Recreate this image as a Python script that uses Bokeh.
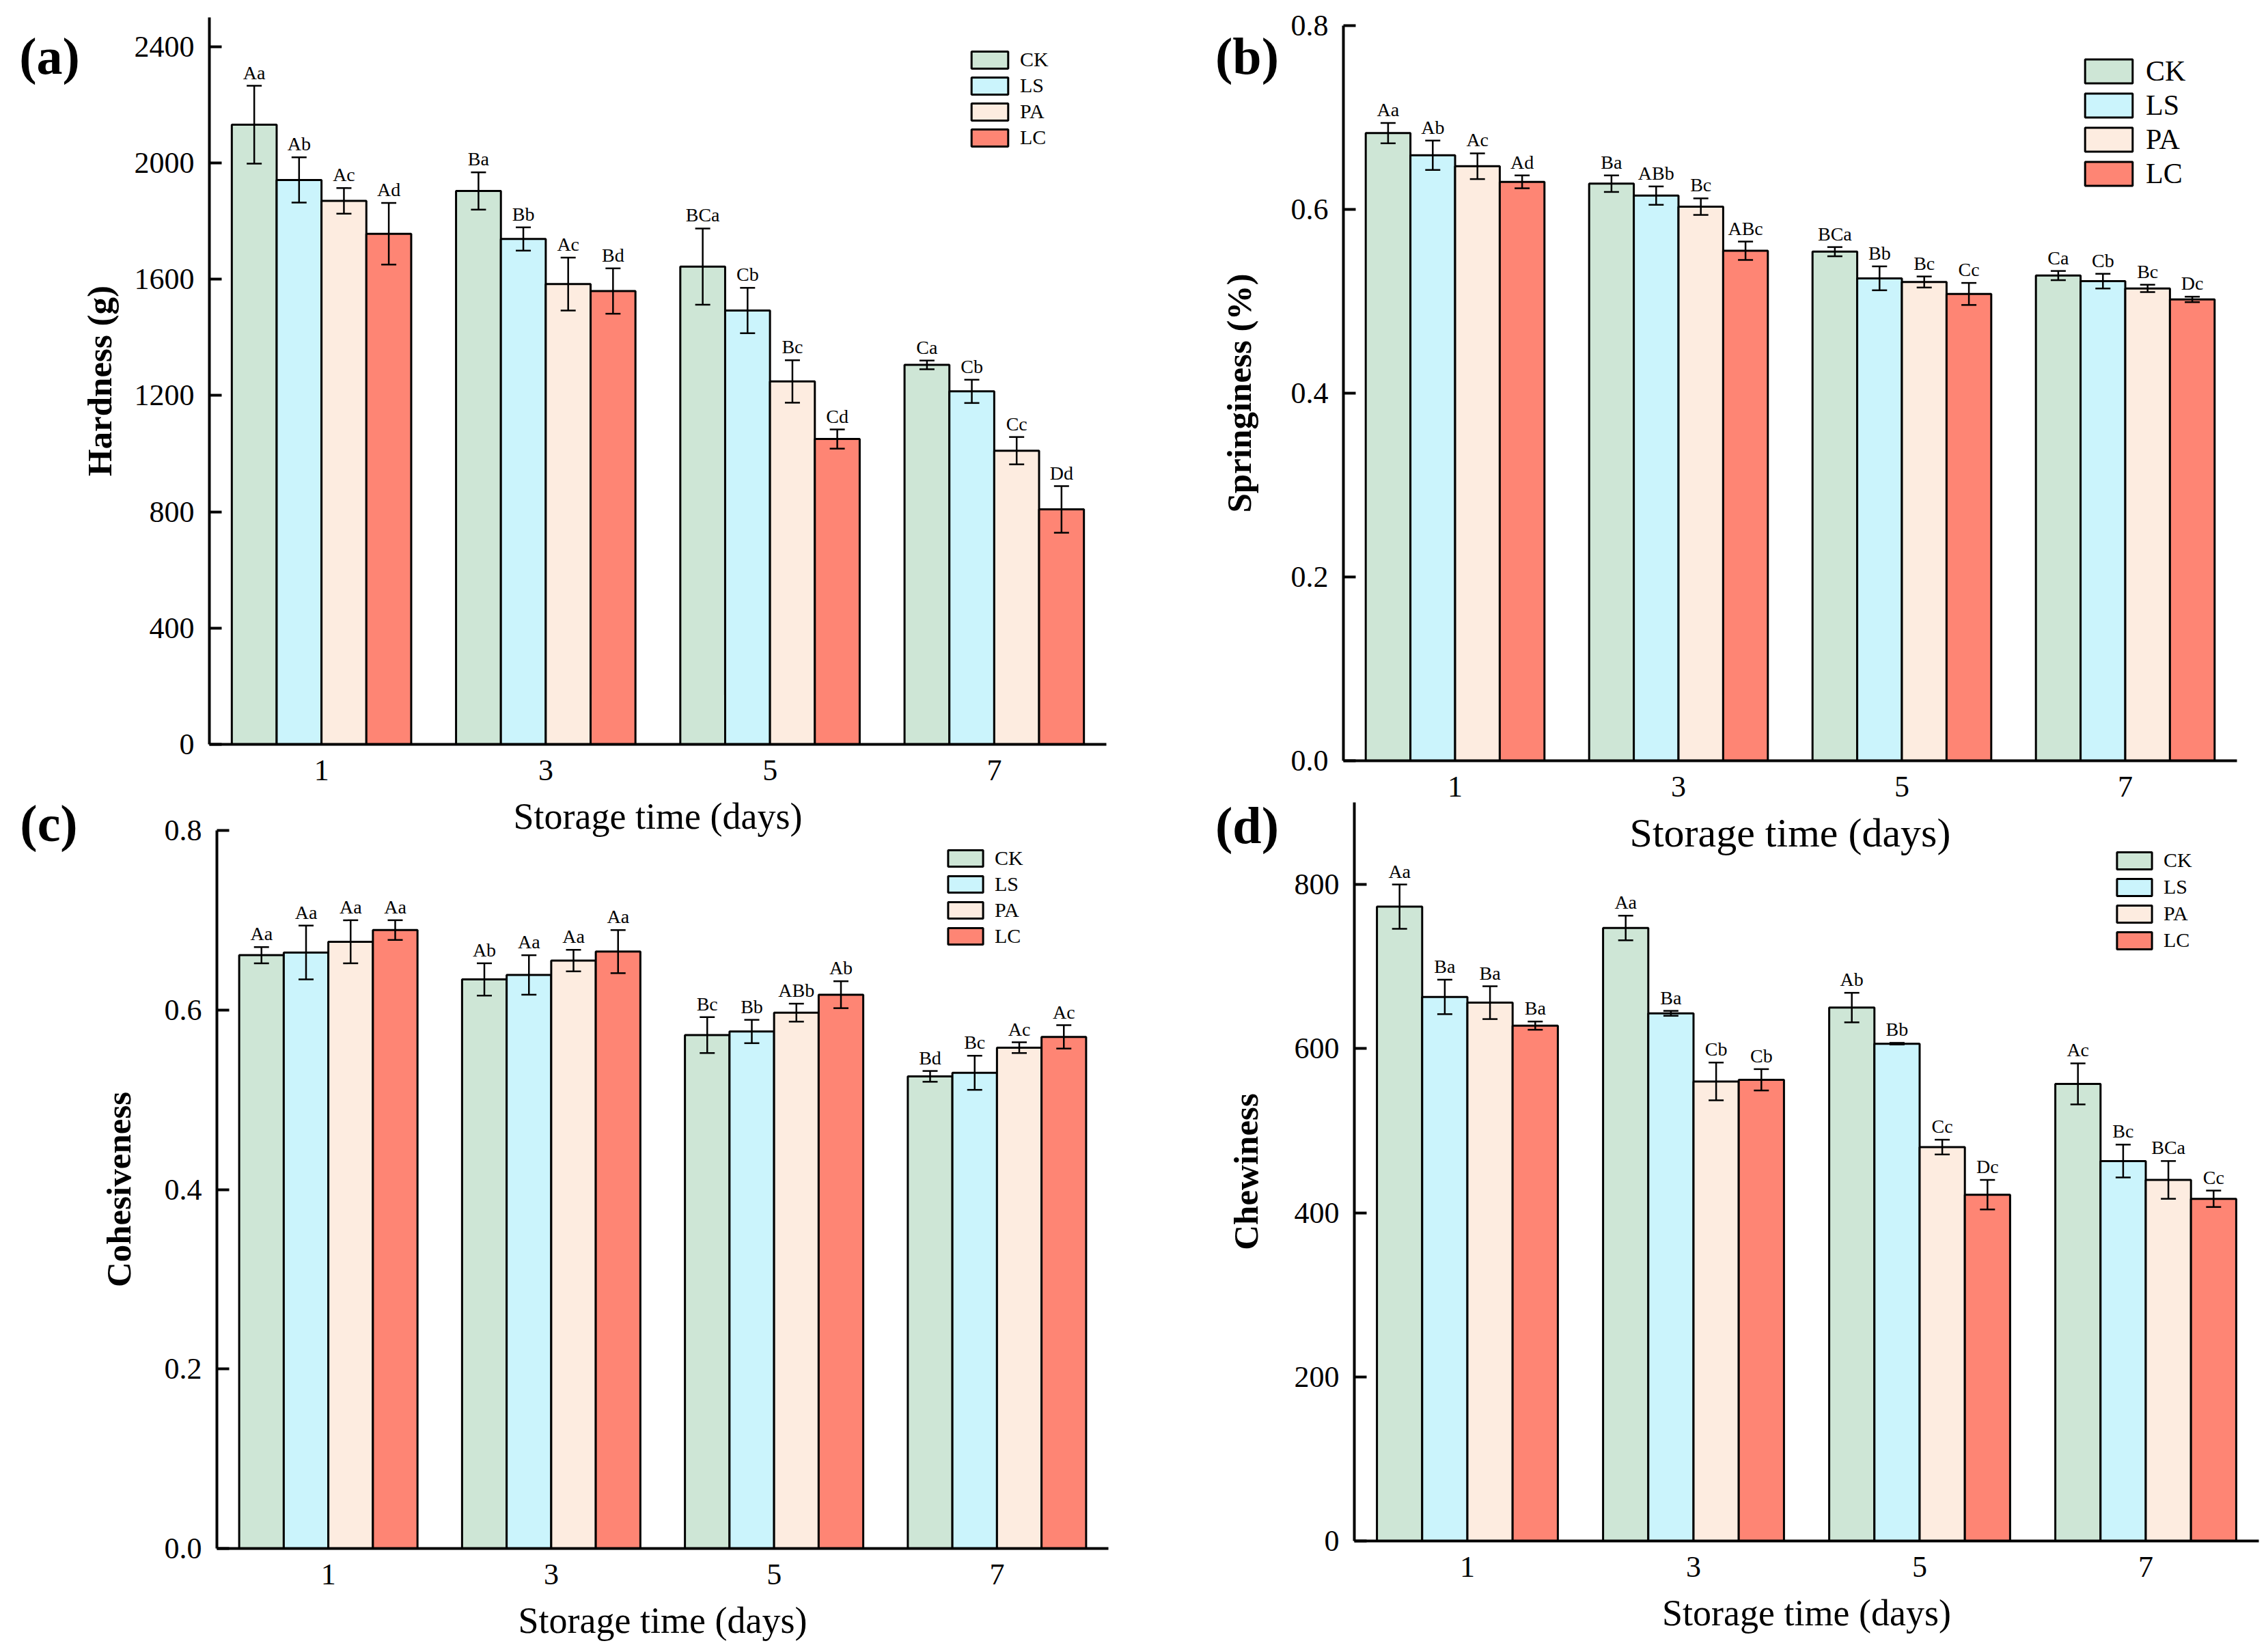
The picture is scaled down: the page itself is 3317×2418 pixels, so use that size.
import numpy as np
from bokeh.plotting import figure
from bokeh.models import (Range1d, FixedTicker, NumeralTickFormatter, Whisker, TeeHead,
                          ColumnDataSource, GridBox)
from bokeh.embed import file_html
from bokeh.resources import INLINE
from bokeh.core.properties import value

FONT = "Liberation Serif"
W, H = 3310, 2412   # every panel shares one full-page canvas (stacked, transparent)

# ---------------- data ----------------
days = ["1", "3", "5", "7"]
groups = ["CK", "LS", "PA", "LC"]
colors = ["#CEE6D6", "#CBF4FC", "#FDECE0", "#FE8574"]

# (a) Hardness (g)
hard_ck = [2131, 1903, 1643, 1305]
hard_ls = [1941, 1738, 1492, 1214]
hard_pa = [1869, 1583, 1248, 1010]
hard_lc = [1756, 1559, 1050, 808]
hard_ck_err = [134, 64, 131, 15]
hard_ls_err = [78, 40, 78, 40]
hard_pa_err = [44, 91, 73, 47]
hard_lc_err = [106, 78, 33, 80]
hard_ck_sig = ["Aa", "Ba", "BCa", "Ca"]
hard_ls_sig = ["Ab", "Bb", "Cb", "Cb"]
hard_pa_sig = ["Ac", "Ac", "Bc", "Cc"]
hard_lc_sig = ["Ad", "Bd", "Cd", "Dd"]
hard_ticks = [0, 400, 800, 1200, 1600, 2000, 2400]

# (b) Springiness (%)
spr_ck = [0.683, 0.628, 0.554, 0.528]
spr_ls = [0.659, 0.615, 0.525, 0.522]
spr_pa = [0.647, 0.603, 0.521, 0.514]
spr_lc = [0.630, 0.555, 0.508, 0.502]
spr_ck_err = [0.011, 0.009, 0.005, 0.005]
spr_ls_err = [0.016, 0.010, 0.013, 0.008]
spr_pa_err = [0.014, 0.009, 0.006, 0.004]
spr_lc_err = [0.007, 0.010, 0.012, 0.003]
spr_ck_sig = ["Aa", "Ba", "BCa", "Ca"]
spr_ls_sig = ["Ab", "ABb", "Bb", "Cb"]
spr_pa_sig = ["Ac", "Bc", "Bc", "Bc"]
spr_lc_sig = ["Ad", "ABc", "Cc", "Dc"]
frac_ticks = [0.0, 0.2, 0.4, 0.6, 0.8]

# (c) Cohesiveness
coh_ck = [0.661, 0.634, 0.572, 0.526]
coh_ls = [0.664, 0.639, 0.576, 0.530]
coh_pa = [0.676, 0.655, 0.597, 0.558]
coh_lc = [0.689, 0.665, 0.617, 0.570]
coh_ck_err = [0.009, 0.018, 0.020, 0.006]
coh_ls_err = [0.030, 0.022, 0.013, 0.019]
coh_pa_err = [0.024, 0.012, 0.010, 0.006]
coh_lc_err = [0.011, 0.024, 0.015, 0.013]
coh_ck_sig = ["Aa", "Ab", "Bc", "Bd"]
coh_ls_sig = ["Aa", "Aa", "Bb", "Bc"]
coh_pa_sig = ["Aa", "Aa", "ABb", "Ac"]
coh_lc_sig = ["Aa", "Aa", "Ab", "Ac"]

# (d) Chewiness
chew_ck = [773, 747, 650, 557]
chew_ls = [663, 643, 606, 463]
chew_pa = [656, 560, 480, 440]
chew_lc = [628, 562, 422, 417]
chew_ck_err = [27, 15, 18, 25]
chew_ls_err = [21, 3, 1, 20]
chew_pa_err = [20, 23, 9, 23]
chew_lc_err = [5, 13, 18, 10]
chew_ck_sig = ["Aa", "Aa", "Ab", "Ac"]
chew_ls_sig = ["Ba", "Ba", "Bb", "Bc"]
chew_pa_sig = ["Ba", "Cb", "Cc", "BCa"]
chew_lc_sig = ["Ba", "Cb", "Dc", "Cc"]
chew_ticks = [0, 200, 400, 600, 800]

# panel tags
tags = ["(a)", "(b)", "(c)", "(d)"]


def base_fig(L, R, T, B, x_range, y_range, **kw):
    p = figure(width=W, height=H, title=None, x_range=x_range, y_range=y_range,
               output_backend="svg", toolbar_location=None, tools="",
               min_border_left=L, min_border_right=W - R,
               min_border_top=T, min_border_bottom=H - B,
               frame_align=False, **kw)
    p.background_fill_color = None
    p.border_fill_color = None
    p.outline_line_color = None
    return p


def panel(vals, errs, sigs, ymax, yticks, yfmt, ylabel, frame, leg, ylab_standoff,
          xlab_size="54px", xlab_standoff=20):
    L, R, T, B = frame
    p = base_fig(L, R, T, B, Range1d(-0.5, 3.5), Range1d(0, ymax))
    p.xgrid.visible = False
    p.ygrid.visible = False

    idx = np.arange(len(days))
    for j, g in enumerate(groups):
        top = np.array(vals[j], dtype=float)
        err = np.array(errs[j], dtype=float)
        src = ColumnDataSource(dict(x=idx + (j - 1.5) * 0.2, top=top,
                                    upper=top + err, lower=top - err, lab=sigs[j]))
        p.vbar(x="x", top="top", width=0.2, source=src, fill_color=colors[j],
               line_color="black", line_width=3, legend_label=g)
        wk = Whisker(base="x", upper="upper", lower="lower", source=src,
                     dimension="height", line_width=2.5, line_color="black",
                     level="annotation")
        wk.upper_head = TeeHead(size=22, line_width=2.5, line_color="black")
        wk.lower_head = TeeHead(size=22, line_width=2.5, line_color="black")
        p.add_layout(wk)
        p.text(x="x", y="upper", text="lab", source=src, text_align="center",
               text_baseline="bottom", y_offset=-4, text_font=value(FONT),
               text_font_size="28px", text_color="black")

    xa = p.xaxis[0]
    ya = p.yaxis[0]
    xa.ticker = FixedTicker(ticks=list(range(len(days))))
    xa.major_label_overrides = {i: d for i, d in enumerate(days)}
    ya.ticker = FixedTicker(ticks=yticks)
    if yfmt:
        ya.formatter = NumeralTickFormatter(format=yfmt)
    for ax in (xa, ya):
        ax.axis_line_width = 4
        ax.axis_line_color = "black"
        ax.major_label_text_font = FONT
        ax.major_label_text_font_size = "44px"
        ax.major_label_text_color = "black"
        ax.axis_label_text_font = FONT
        ax.axis_label_text_color = "black"
        ax.minor_tick_line_color = None
    xa.major_tick_line_color = None
    xa.major_tick_in = 0
    xa.major_tick_out = 0
    ya.major_tick_in = 18
    ya.major_tick_out = 0
    ya.major_tick_line_width = 4
    xa.major_label_standoff = 23
    ya.major_label_standoff = 22
    xa.axis_label = "Storage time (days)"
    xa.axis_label_text_font_style = "normal"
    xa.axis_label_text_font_size = xlab_size
    xa.axis_label_standoff = xlab_standoff
    ya.axis_label = ylabel
    ya.axis_label_text_font_style = "bold"
    ya.axis_label_text_font_size = "51px"
    ya.axis_label_standoff = ylab_standoff

    vx, vy, gw, gh, sp, fs = leg
    lg = p.legend[0]
    lg.location = (vx, vy)
    lg.glyph_width = gw
    lg.glyph_height = gh
    lg.label_height = gh
    lg.spacing = sp
    lg.label_standoff = 11
    lg.label_text_font = FONT
    lg.label_text_font_size = fs
    lg.label_text_color = "black"
    lg.padding = 0
    lg.margin = 0
    lg.border_line_color = None
    lg.background_fill_alpha = 0
    return p


pa = panel([hard_ck, hard_ls, hard_pa, hard_lc],
           [hard_ck_err, hard_ls_err, hard_pa_err, hard_lc_err],
           [hard_ck_sig, hard_ls_sig, hard_pa_sig, hard_lc_sig],
           2500, hard_ticks, None, "Hardness (g)",
           (306, 1619, 25, 1089), (1109, 871, 67, 31, 4, "30px"), 20)
pb = panel([spr_ck, spr_ls, spr_pa, spr_lc],
           [spr_ck_err, spr_ls_err, spr_pa_err, spr_lc_err],
           [spr_ck_sig, spr_ls_sig, spr_pa_sig, spr_lc_sig],
           0.8, frac_ticks, "0.0", "Springiness (%)",
           (1966, 3274, 37, 1113), (1077, 835, 87, 44, 2, "42px"), 45,
           xlab_size="60px", xlab_standoff=17)
pc = panel([coh_ck, coh_ls, coh_pa, coh_lc],
           [coh_ck_err, coh_ls_err, coh_pa_err, coh_lc_err],
           [coh_ck_sig, coh_ls_sig, coh_pa_sig, coh_lc_sig],
           0.8, frac_ticks, "0.0", "Cohesiveness",
           (317, 1622, 1215, 2266), (1064, 879, 64, 30, 4, "30px"), 36)
pd_ = panel([chew_ck, chew_ls, chew_pa, chew_lc],
            [chew_ck_err, chew_ls_err, chew_pa_err, chew_lc_err],
            [chew_ck_sig, chew_ls_sig, chew_pa_sig, chew_lc_sig],
            900, chew_ticks, None, "Chewiness",
            (1982, 3306, 1174, 2255), (1110, 862, 64, 31, 5, "30px"), 40)

# transparent overlay canvas for the panel tags (page pixel coordinates)
ov = base_fig(0, W, 0, H, Range1d(0, W), Range1d(H, 0),
              x_axis_type=None, y_axis_type=None)
ov.grid.visible = False
ov.text(x=[72, 1825, 71, 1825], y=[81, 81, 1204, 1207], text=tags,
        text_align="center", text_baseline="middle", text_font=value(FONT),
        text_font_style="bold", text_font_size="76px", text_color="black")

layout = GridBox(children=[(pa, 0, 0), (pb, 0, 0), (pc, 0, 0), (pd_, 0, 0), (ov, 0, 0)])

with open("out.html", "w") as f:
    f.write(file_html(layout, INLINE))
